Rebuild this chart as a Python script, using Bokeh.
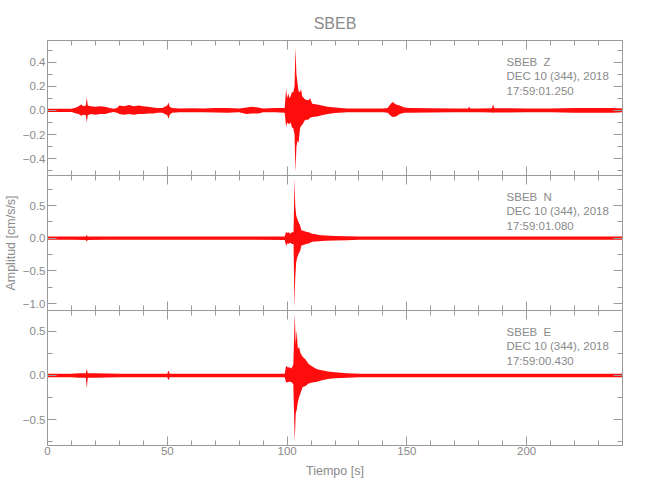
from bokeh.plotting import figure
from bokeh.layouts import column
from bokeh.models import Range1d, LinearAxis, FixedTicker, Label, CustomJSTickFormatter
from bokeh.embed import file_html
from bokeh.resources import INLINE

# ---------------- data ----------------
station = "SBEB"
date_text = "DEC 10 (344), 2018"
components = ["Z", "N", "E"]
start_times = ["17:59:01.250", "17:59:01.080", "17:59:00.430"]

x_ticks = [0, 50, 100, 150, 200]
x_minor = list(range(0, 241, 10))

# Z component: time [s], upper / lower envelope [cm/s/s]
t_z = [
    0, 5, 10, 12, 13, 14, 15, 16, 16.4, 16.8,
    18, 20, 22, 24, 26, 27.5, 29, 30, 32, 34,
    36, 38, 40, 42, 44, 46, 48, 50, 50.5, 51,
    52, 55, 60, 65, 70, 75, 80, 83, 85, 88,
    90, 95,
    99, 99.6, 100, 100.5, 101, 101.5, 102, 102.6, 103.1, 103.5,
    103.9, 104.4, 104.8, 105.4, 105.8, 106.3, 107.5, 109, 109.6, 110.5,
    112.5, 114.5, 117, 120, 125,
    130, 135, 140, 142, 143, 144, 145.5, 147, 149, 151,
    160, 170, 175.5, 176, 176.5, 180, 185.5, 186, 186.5, 200,
    210, 220, 230, 236, 240]
hi_z = [
    0.014, 0.014, 0.014, 0.025, 0.035, 0.05, 0.035, 0.04, 0.11, 0.04,
    0.035, 0.03, 0.035, 0.03, 0.02, 0.014, 0.02, 0.04, 0.035, 0.045,
    0.035, 0.04, 0.035, 0.03, 0.025, 0.02, 0.02, 0.04, 0.065, 0.03,
    0.02, 0.016, 0.018, 0.016, 0.02, 0.02, 0.016, 0.025, 0.03, 0.025,
    0.016, 0.02,
    0.02, 0.18, 0.1, 0.14, 0.1, 0.12, 0.15, 0.15, 0.2, 0.52,
    0.3, 0.22, 0.16, 0.15, 0.18, 0.12, 0.09, 0.085, 0.1, 0.055,
    0.05, 0.04, 0.03, 0.025, 0.016,
    0.016, 0.016, 0.016, 0.02, 0.05, 0.07, 0.05, 0.04, 0.025, 0.02,
    0.018, 0.016, 0.016, 0.03, 0.016, 0.016, 0.018, 0.05, 0.018, 0.016,
    0.016, 0.02, 0.02, 0.02, 0.016]
lo_z = [
    -0.014, -0.014, -0.014, -0.025, -0.03, -0.045, -0.035, -0.04, -0.10, -0.04,
    -0.03, -0.035, -0.03, -0.03, -0.02, -0.014, -0.02, -0.03, -0.035, -0.03,
    -0.035, -0.03, -0.03, -0.025, -0.025, -0.02, -0.02, -0.04, -0.07, -0.035,
    -0.02, -0.016, -0.016, -0.016, -0.018, -0.02, -0.016, -0.03, -0.025, -0.025,
    -0.016, -0.016,
    -0.02, -0.14, -0.1, -0.11, -0.11, -0.1, -0.14, -0.15, -0.2, -0.51,
    -0.3, -0.25, -0.27, -0.15, -0.13, -0.12, -0.08, -0.075, -0.06, -0.055,
    -0.05, -0.04, -0.03, -0.022, -0.016,
    -0.016, -0.016, -0.016, -0.02, -0.04, -0.055, -0.05, -0.03, -0.02, -0.02,
    -0.018, -0.016, -0.016, -0.016, -0.016, -0.016, -0.018, -0.02, -0.018, -0.016,
    -0.016, -0.02, -0.02, -0.02, -0.016]

# N component
t_n = [
    0, 10, 16, 16.4, 16.8, 25, 40, 55, 70, 85,
    99, 99.6, 100, 100.6, 101.3, 102, 102.7, 103.1, 103.4, 103.8,
    104.2, 104.8, 105.4, 106, 107, 108, 109, 110.5, 112, 113.2,
    116, 120, 125, 130, 145, 160,
    180, 200, 220, 240]
hi_n = [
    0.025, 0.025, 0.027, 0.05, 0.027, 0.025, 0.025, 0.025, 0.025, 0.025,
    0.027, 0.1, 0.08, 0.09, 0.07, 0.09, 0.09, 0.91, 0.5, 0.35,
    0.3, 0.245, 0.2, 0.12, 0.11, 0.1, 0.09, 0.07, 0.06, 0.05,
    0.04, 0.035, 0.03, 0.025, 0.025, 0.025,
    0.025, 0.025, 0.025, 0.025]
lo_n = [
    -0.025, -0.025, -0.027, -0.05, -0.027, -0.025, -0.025, -0.025, -0.025, -0.025,
    -0.027, -0.12, -0.08, -0.086, -0.07, -0.09, -0.09, -1.06, -0.6, -0.37,
    -0.3, -0.24, -0.2, -0.11, -0.1, -0.09, -0.08, -0.055, -0.05, -0.045,
    -0.04, -0.035, -0.03, -0.025, -0.025, -0.025,
    -0.025, -0.025, -0.025, -0.025]

# E component
t_e = [
    0, 10, 13, 16, 16.4, 16.8, 20, 25, 30, 40,
    50, 50.5, 51, 60, 75, 90, 99, 99.6, 100.3, 101,
    101.8, 102.6, 103.2, 103.6, 104, 104.5, 105, 105.6, 106.5, 107.7,
    109, 110.5, 112.5, 114.5, 117, 120, 125, 130, 150, 170,
    190, 210, 230, 240]
hi_e = [
    0.019, 0.019, 0.025, 0.025, 0.075, 0.025, 0.025, 0.022, 0.019, 0.019,
    0.02, 0.055, 0.02, 0.019, 0.019, 0.019, 0.02, 0.11, 0.09, 0.094,
    0.08, 0.12, 0.70, 0.35, 0.51, 0.3, 0.32, 0.25, 0.21, 0.18,
    0.13, 0.1, 0.07, 0.06, 0.045, 0.035, 0.025, 0.02, 0.019, 0.019,
    0.019, 0.019, 0.019, 0.019]
lo_e = [
    -0.019, -0.019, -0.025, -0.025, -0.14, -0.025, -0.025, -0.022, -0.019, -0.019,
    -0.02, -0.055, -0.02, -0.019, -0.019, -0.019, -0.02, -0.08, -0.075, -0.07,
    -0.075, -0.1, -0.75, -0.43, -0.39, -0.3, -0.245, -0.2, -0.13, -0.12,
    -0.09, -0.08, -0.07, -0.055, -0.04, -0.03, -0.025, -0.02, -0.019, -0.019,
    -0.019, -0.019, -0.019, -0.019]

y_ranges = [(-0.54, 0.58), (-1.107, 0.96), (-0.79, 0.733)]
y_major = [[-0.4, -0.2, 0.0, 0.2, 0.4], [-1.0, -0.5, 0.0, 0.5], [-0.5, 0.0, 0.5]]
y_minor = [[-0.5, -0.4, -0.3, -0.2, -0.1, 0.0, 0.1, 0.2, 0.3, 0.4, 0.5],
           [-1.0, -0.75, -0.5, -0.25, 0.0, 0.25, 0.5, 0.75],
           [-0.75, -0.5, -0.25, 0.0, 0.25, 0.5]]

# ---------------- style ----------------
FONT = "Liberation Sans"
TXT = "#8a8a8a"
AXC = "#9a9a9a"
FW, FH = 575, 135

xr = Range1d(0, 240)
y_fmt = CustomJSTickFormatter(code="return tick.toFixed(1).replace('-', '\\u2212');")


def style_axis(ax, show):
    ax.axis_line_color = AXC
    ax.major_tick_line_color = AXC
    ax.minor_tick_line_color = AXC
    ax.major_tick_in = 9
    ax.major_tick_out = 0
    ax.minor_tick_in = 5
    ax.minor_tick_out = 0
    ax.major_label_text_font = FONT
    ax.major_label_text_color = TXT
    ax.major_label_text_font_size = "11.5px"
    ax.axis_label_text_font = FONT
    ax.axis_label_text_color = TXT
    ax.axis_label_text_font_size = "12.5px"
    ax.axis_label_text_font_style = "normal"
    if show:
        ax.major_label_standoff = 3
    else:
        ax.major_label_standoff = 0
        ax.formatter = CustomJSTickFormatter(code="return '';")


series = [(t_z, hi_z, lo_z), (t_n, hi_n, lo_n), (t_e, hi_e, lo_e)]
panels = []
for i in range(3):
    t, hi, lo = series[i]
    y0, y1 = y_ranges[i]
    kw = dict(title=station) if i == 0 else {}
    p = figure(frame_width=FW, frame_height=FH, x_range=xr, y_range=Range1d(y0, y1),
               x_axis_type=None, y_axis_type=None, output_backend="svg",
               toolbar_location=None, min_border_left=38, min_border_right=12,
               min_border_top=40 if i == 0 else 0, min_border_bottom=36 if i == 2 else 0,
               background_fill_color="white", border_fill_color="white", **kw)
    p.outline_line_color = None
    if i == 0:
        p.title.align = "center"
        p.title.text_font = FONT
        p.title.text_font_size = "16px"
        p.title.text_font_style = "normal"
        p.title.text_color = TXT
        p.title.standoff = 18

    for loc in ["above", "below"]:
        ax = LinearAxis(ticker=FixedTicker(ticks=x_ticks, minor_ticks=x_minor))
        show = (loc == "below" and i == 2)
        style_axis(ax, show)
        if show:
            ax.axis_label = "Tiempo [s]"
            ax.major_label_standoff = 1
            ax.axis_label_standoff = 6
        p.add_layout(ax, loc)
    for loc in ["left", "right"]:
        ax = LinearAxis(ticker=FixedTicker(ticks=y_major[i], minor_ticks=y_minor[i]))
        show = (loc == "left")
        style_axis(ax, show)
        if show:
            ax.formatter = y_fmt
            ax.major_label_standoff = 2
            if i == 1:
                ax.axis_label = "Amplitud [cm/s/s]"
                ax.axis_label_standoff = 2
        p.add_layout(ax, loc)

    p.varea(x=t, y1=lo, y2=hi, fill_color="#ff0000", fill_alpha=0.95)

    ppu = FH / (y1 - y0)
    xs = 191.6
    for txt, xx, off in [(station, xs, 21), (components[i], 207.0, 21),
                         (date_text, xs, 35.5), (start_times[i], xs, 50)]:
        p.add_layout(Label(x=xx, y=y1 - off / ppu, text=txt, text_font=FONT,
                           text_font_size="11.5px", text_color=TXT,
                           text_baseline="middle", text_align="left"))
    panels.append(p)

layout = column(*panels, spacing=0)
open("out.html", "w").write(file_html(layout, INLINE))
